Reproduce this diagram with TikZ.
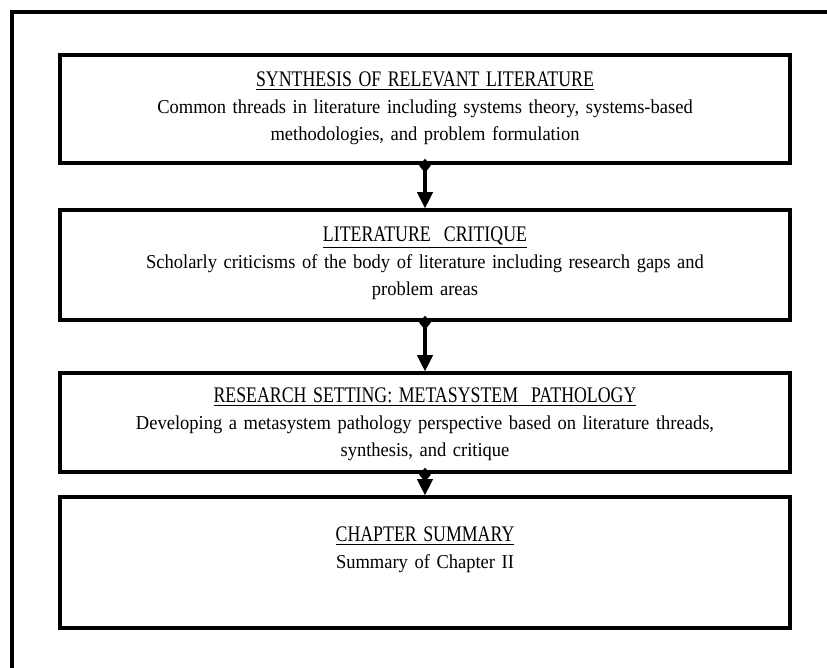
\documentclass[tikz,border=0pt]{standalone}
\usepackage{fontspec}
\setmainfont{Liberation Serif}
\newfontfamily\headfont[FakeStretch=0.8]{Liberation Serif}
\newfontfamily\bodyfont[FakeStretch=0.94]{Liberation Serif}
\usetikzlibrary{arrows.meta,positioning}
\newcommand{\stagehead}[1]{{\headfont\fontsize{19}{23}\selectfont\underline{#1}}}

\begin{document}
\begin{tikzpicture}[x=0.03cm,y=-0.03cm]
        \tikzset{stage/.style = {draw, line width=2.6pt, minimum width=21.9cm, inner sep=0pt}}
        \tikzset{caption/.style = {anchor=north, align=center, text width=21cm, inner sep=0pt, font=\bodyfont\fontsize{16.8}{23}\selectfont}}
        \tikzset{flow/.style = {{Diamond[length=12pt,width=10pt]}-{Triangle[length=14pt,width=13pt]}, line width=3.2pt, shorten <=-5pt}}
        \useasboundingbox (0,0) rectangle (827,668);
        % frame
        \draw[line width=2.6pt] (12,668) -- (12,12) -- (827,12);
        % stages
        \node[stage, minimum height=3.24cm] (synth) at (425,109)   {};
        \node[stage, minimum height=3.3cm]  (crit)  at (425,265)   {};
        \node[stage, minimum height=2.97cm] (setting) at (425,422.5) {};
        \node[stage, minimum height=3.93cm] (summary) at (425,562.5) {};
        % captions
        \node[caption] (synthtext) at (425,72) {\stagehead{SYNTHESIS OF RELEVANT LITERATURE}\\
                Common threads in literature including systems theory, systems-based\\
                methodologies, and problem formulation};
        \node[caption] (crittext) at (425,227) {\stagehead{LITERATURE\ \ CRITIQUE}\\
                Scholarly criticisms of the body of literature including research gaps and\\
                problem areas};
        \node[caption] (settingtext) at (425,388) {\stagehead{RESEARCH SETTING:\ METASYSTEM\ \ PATHOLOGY}\\
                Developing a metasystem pathology perspective based on literature threads,\\
                synthesis, and critique};
        \node[caption] (summarytext) at (425,527) {\stagehead{CHAPTER SUMMARY}\\
                Summary of Chapter II};
        % arrows
        \draw[flow] (synth) -- (crit);
        \draw[flow] (crit) -- (setting);
        \draw[flow] (setting) -- (summary);
\end{tikzpicture}
\end{document}
